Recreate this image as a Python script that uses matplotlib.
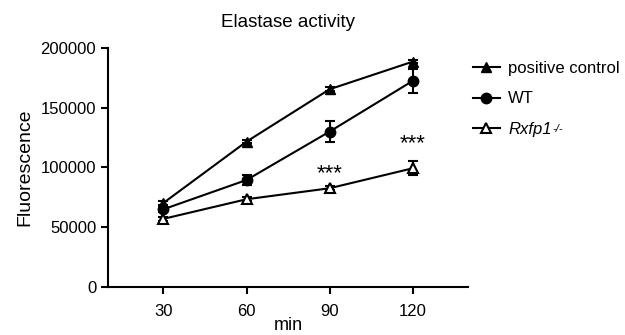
import numpy as np
import matplotlib
matplotlib.use('Agg')
import matplotlib.pyplot as plt
from matplotlib.lines import Line2D

plt.rcParams['font.family'] = ['Liberation Sans', 'DejaVu Sans']

minutes = [30, 60, 90, 120]
pos_ctrl = [70300, 121600, 165400, 188500]
pos_ctrl_err = [1500, 1500, 1500, 1500]
wt = [65000, 89500, 130000, 172400]
wt_err = [2500, 4000, 8800, 10000]
rxfp1 = [57000, 73400, 82600, 99300]
rxfp1_err = [1500, 1500, 1500, 6000]
stars_x = [90, 120]
stars_y = [95000, 119500]

fig = plt.figure(figsize=(6.25, 3.35), dpi=100)
ax = fig.add_axes([0.1728, 0.1433, 0.5762, 0.7137])

kw = dict(color='black', lw=1.5, capsize=3.5, elinewidth=1.5, capthick=1.5)
ax.errorbar(minutes, pos_ctrl, yerr=pos_ctrl_err, marker='^', ms=7.5,
            mfc='black', mec='black', **kw)
ax.errorbar(minutes, wt, yerr=wt_err, marker='o', ms=7.5,
            mfc='black', mec='black', **kw)
ax.errorbar(minutes, rxfp1, yerr=rxfp1_err, marker='^', ms=7.5,
            mfc='white', mec='black', mew=1.5, **kw)

for x, y in zip(stars_x, stars_y):
    ax.text(x, y, '***', ha='center', va='center', fontsize=16)

ax.set_xlim(10, 140)
ax.set_ylim(0, 200000)
ax.set_xticks(minutes)
ax.set_yticks([0, 50000, 100000, 150000, 200000])
ax.tick_params(labelsize=12, width=1.5, length=5)
ax.tick_params(axis='x', pad=7)
for s in ['top', 'right']:
    ax.spines[s].set_visible(False)
for s in ['left', 'bottom']:
    ax.spines[s].set_linewidth(1.5)

ax.set_title('Elastase activity', fontsize=13.5, pad=15)
ax.set_ylabel('Fluorescence', fontsize=14, labelpad=5)
ax.set_xlabel('min', fontsize=13, labelpad=-1)

handles = [
    Line2D([], [], color='black', lw=1.5, marker='^', ms=7.5, mfc='black'),
    Line2D([], [], color='black', lw=1.5, marker='o', ms=7.5, mfc='black'),
    Line2D([], [], color='black', lw=1.5, marker='^', ms=7.5, mfc='white', mew=1.5),
]
labels = ['positive control', 'WT', 'Rxfp1']
leg = ax.legend(handles, labels, loc='upper left', bbox_to_anchor=(0.995, 0.975),
                frameon=False, fontsize=12, handlelength=1.6, handletextpad=0.5,
                labelspacing=0.95, borderaxespad=0)
leg.get_texts()[2].set_style('italic')

fig.canvas.draw()
bb = leg.get_texts()[2].get_window_extent()
x1, y1 = fig.transFigure.inverted().transform((bb.x1, bb.y1))
fig.text(x1 + 0.002, y1 - 0.005, '-/-', fontsize=8, style='italic', va='top', ha='left')

fig.savefig('out.png', dpi=100)
